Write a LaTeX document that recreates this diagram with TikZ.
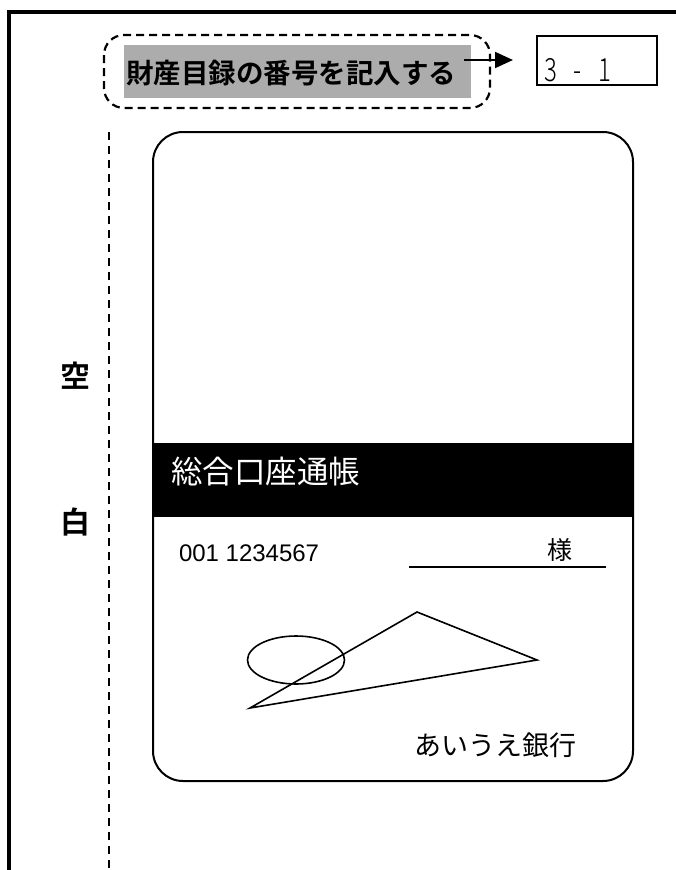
\documentclass[tikz,border=0pt]{standalone}
\usepackage{fontspec}
\setmainfont{Liberation Sans}
\newfontfamily\jp{Noto Sans CJK JP}
\newfontfamily\jpb{Noto Sans CJK JP Bold}
\newfontfamily\jpl[FakeStretch=0.75]{Noto Sans CJK JP Light}
\usetikzlibrary{arrows.meta,shapes.geometric}
\begin{document}
\begin{tikzpicture}[x=1pt,y=-1pt,
  txt/.style={inner sep=0pt,outer sep=0pt},
  thinline/.style={line width=1.6pt},
  dashline/.style={line width=2.2pt,dash pattern=on 8pt off 5pt}]
\useasboundingbox (0,0) rectangle (676,870);
% outer frame
\draw[line width=4pt] (9,875) -- (9,12) -- (690,12);
% dashed rounded box
\draw[dashline,rounded corners=20pt] (104,35) rectangle (490,108);
\fill[gray!65] (124,45) rectangle (471,98);
\node[txt,font=\jpb\fontsize{27.5}{30}\selectfont] (lab) at (291,73) {財産目録の番号を記入する};
% number box
\node[draw,thinline,minimum width=120pt,minimum height=49pt,inner sep=0pt] (num) at (597,60.5) {};
\node[txt,anchor=west,font=\jpl\fontsize{32}{35}\selectfont] (numtxt) at (544,70) {3\hspace{17pt}-\hspace{17pt}1};
\coordinate (astart) at (464,60);
\coordinate (aend) at (513,60);
\draw[line width=2pt,-{Triangle[length=18pt,width=16pt]}] (astart) -- (aend);
% vertical dashed
\draw[line width=2pt,dash pattern=on 8pt off 6pt] (109,132) -- (109,875);
\node[txt,font=\jpb\fontsize{30}{32}\selectfont] (ku) at (75,376) {空};
\node[txt,font=\jpb\fontsize{30}{32}\selectfont] (haku) at (75,522) {白};
% passbook
\fill[black] (153,443) rectangle (633,517);
\draw[line width=2pt,rounded corners=30pt] (153,132) rectangle (633,781);
\node[txt,anchor=west,text=white,font=\jp\fontsize{31.5}{34}\selectfont] (title) at (171,472) {総合口座通帳};
\node[txt,anchor=west,font=\fontsize{24}{26}\selectfont] (acct) at (179,553) {001 1234567};
\coordinate (ul1) at (409,567);
\coordinate (ul2) at (606,567);
\draw[line width=2pt] (ul1) -- (ul2);
\node[txt,font=\jp\fontsize{25}{27}\selectfont] (sama) at (560,550) {様};
\draw[thinline] (296,660) ellipse [x radius=48.5pt,y radius=24pt];
\coordinate (t1) at (250,708);
\coordinate (t2) at (417,612);
\coordinate (t3) at (537,660);
\draw[thinline,line join=miter] (t1) -- (t2) -- (t3) -- cycle;
\node[txt,font=\jp\fontsize{27}{30}\selectfont] (bank) at (495,745) {あいうえ銀行};
\end{tikzpicture}
\end{document}
